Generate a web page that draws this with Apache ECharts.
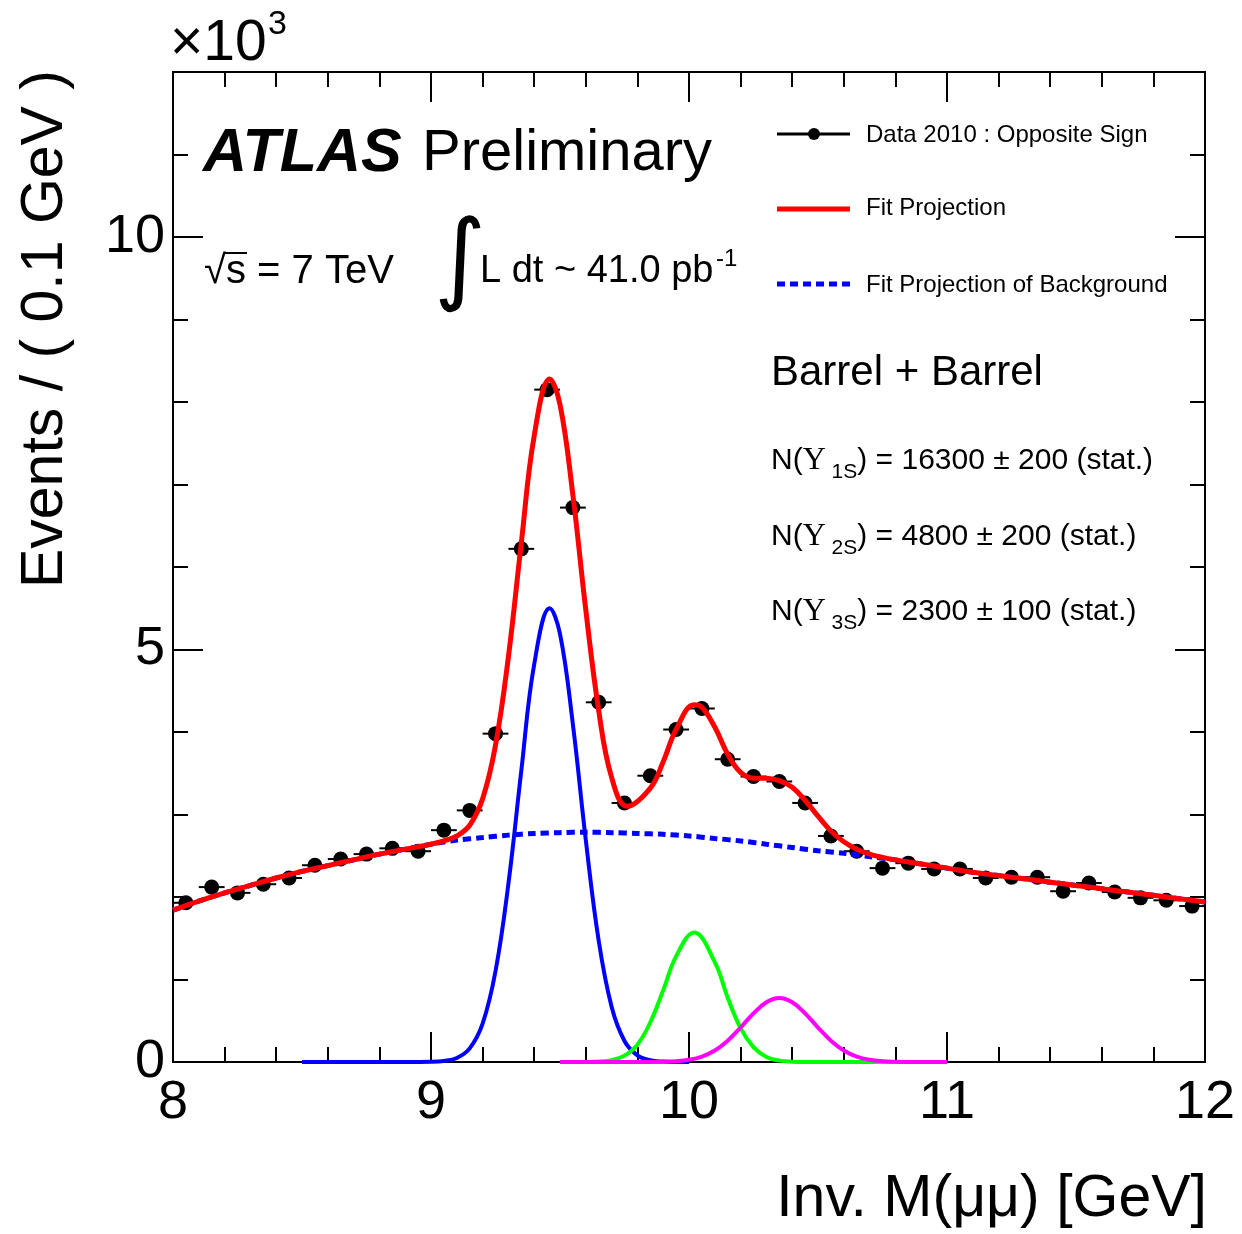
<!DOCTYPE html>
<html>
<head>
<meta charset="utf-8">
<script src="https://cdn.jsdelivr.net/npm/echarts@6/dist/echarts.min.js"></script>
<style>
html,body{margin:0;padding:0;background:#fff;}
#chart{width:1242px;height:1234px;}
</style>
</head>
<body>
<div id="chart"></div>
<script>
// ---- data (events in units of 10^3 per 0.1 GeV) ----
const massBins = [8.05, 8.15, 8.25, 8.35, 8.45, 8.55, 8.65, 8.75, 8.85, 8.95,
                  9.05, 9.15, 9.25, 9.35, 9.45, 9.55, 9.65, 9.75, 9.85, 9.95,
                  10.05, 10.15, 10.25, 10.35, 10.45, 10.55, 10.65, 10.75, 10.85, 10.95,
                  11.05, 11.15, 11.25, 11.35, 11.45, 11.55, 11.65, 11.75, 11.85, 11.95];
const eventsK = [1.93, 2.12, 2.05, 2.155, 2.23, 2.385, 2.46, 2.52, 2.59, 2.555,
                 2.81, 3.05, 3.98, 6.22, 8.15, 6.72, 4.36, 3.14, 3.47, 4.03,
                 4.285, 3.67, 3.46, 3.40, 3.14, 2.74, 2.555, 2.35, 2.41, 2.34,
                 2.34, 2.23, 2.24, 2.24, 2.07, 2.17, 2.06, 1.99, 1.96, 1.89];
const binHalfWidth = 0.05;

const bkgMass = [8.0, 8.1, 8.2, 8.3, 8.4, 8.5, 8.6, 8.7, 8.8, 8.9,
                 9.0, 9.1, 9.2, 9.3, 9.4, 9.5, 9.6, 9.7, 9.8, 9.9,
                 10.0, 10.1, 10.2, 10.3, 10.4, 10.5, 10.6, 10.7, 10.8, 10.9,
                 11.0, 11.1, 11.2, 11.3, 11.4, 11.5, 11.6, 11.7, 11.8, 11.9, 12.0];
const bkgFit = [1.84, 1.95, 2.05, 2.14, 2.23, 2.31, 2.38, 2.45, 2.52, 2.58,
                2.64, 2.69, 2.72, 2.75, 2.77, 2.78, 2.785, 2.78, 2.77, 2.76,
                2.74, 2.71, 2.68, 2.64, 2.60, 2.56, 2.53, 2.49, 2.45, 2.40,
                2.35, 2.30, 2.26, 2.22, 2.18, 2.14, 2.10, 2.06, 2.02, 1.98, 1.94];

const fitMass = [8.0, 8.1, 8.2, 8.3, 8.4, 8.5, 8.6, 8.7, 8.8, 8.9,
                 9.0, 9.05, 9.1, 9.15, 9.2, 9.25, 9.3, 9.35, 9.4, 9.46,
                 9.5, 9.55, 9.6, 9.65, 9.7, 9.76, 9.85, 9.9, 9.95,
                 10.02, 10.05, 10.1, 10.15, 10.2, 10.25, 10.3, 10.35, 10.4, 10.45,
                 10.5, 10.55, 10.6, 10.65, 10.7, 10.75, 10.8, 10.9,
                 11.0, 11.1, 11.2, 11.3, 11.4, 11.5, 11.6, 11.7, 11.8, 11.9, 12.0];
const fitTotal = [1.84, 1.95, 2.05, 2.14, 2.23, 2.31, 2.38, 2.45, 2.52, 2.58,
                  2.64, 2.68, 2.74, 2.87, 3.19, 3.84, 4.91, 6.29, 7.59, 8.28,
                  7.97, 6.87, 5.48, 4.26, 3.45, 3.10, 3.32, 3.64, 4.03,
                  4.33, 4.30, 4.06, 3.73, 3.51, 3.44, 3.44, 3.41, 3.33, 3.17,
                  2.98, 2.80, 2.67, 2.58, 2.52, 2.48, 2.45, 2.40,
                  2.35, 2.30, 2.26, 2.22, 2.18, 2.14, 2.10, 2.06, 2.02, 1.98, 1.94];

const y1sMass = [8.5, 8.9, 9.0, 9.05, 9.1, 9.15, 9.2, 9.25, 9.3, 9.35, 9.4, 9.46,
                 9.5, 9.55, 9.6, 9.65, 9.7, 9.75, 9.8, 9.85, 9.9, 9.95, 10.0];
const y1sFit = [0, 0, 0.002, 0.012, 0.048, 0.165, 0.465, 1.10, 2.16, 3.53, 4.82, 5.50,
                5.19, 4.09, 2.69, 1.47, 0.67, 0.255, 0.081, 0.021, 0.005, 0.001, 0];

const y2sMass = [9.5, 9.6, 9.65, 9.7, 9.75, 9.8, 9.85, 9.9, 9.95, 10.02,
                 10.1, 10.15, 10.2, 10.25, 10.3, 10.35, 10.4, 10.45, 11.0];
const y2sFit = [0, 0.001, 0.005, 0.023, 0.077, 0.21, 0.48, 0.87, 1.28, 1.57,
                1.21, 0.78, 0.41, 0.18, 0.061, 0.017, 0.004, 0, 0];

const y3sMass = [9.5, 9.85, 9.9, 9.95, 10.0, 10.05, 10.1, 10.15, 10.2, 10.25, 10.3, 10.35,
                 10.4, 10.45, 10.5, 10.55, 10.6, 10.65, 10.7, 10.75, 10.8, 10.85, 10.9, 11.0];
const y3sFit = [0, 0.001, 0.003, 0.0096, 0.027, 0.066, 0.140, 0.259, 0.418, 0.589, 0.724, 0.775,
                0.724, 0.589, 0.418, 0.259, 0.140, 0.066, 0.027, 0.0096, 0.003, 0.001, 0, 0];

const legendLabels = ['Data 2010 : Opposite Sign', 'Fit Projection', 'Fit Projection of Background'];

// ---- helpers ----
const zip = (a, b) => a.map((v, i) => [v, b[i]]);
const FONT = '"Liberation Sans", Helvetica, Arial, sans-serif';
const SERIF = '"Liberation Serif", "Times New Roman", serif';

function txt(x, y, text, size, extra) {
  const st = Object.assign({
    text: text, fontSize: size, fontFamily: FONT, fill: '#000',
    align: 'left', verticalAlign: 'middle'
  }, extra || {});
  st.textAlign = st.align;
  st.textVerticalAlign = st.verticalAlign;
  return { type: 'text', x: x, y: y, z: 100, style: st };
}

const chart = echarts.init(document.getElementById('chart'), null, { renderer: 'canvas' });

const tickStyle = { color: '#000', width: 2 };
const xMain = {
  type: 'value', min: 8, max: 12, interval: 1,
  axisLine: { show: true, onZero: false, lineStyle: { color: '#000', width: 2 } },
  axisTick: { show: true, inside: true, length: 30, lineStyle: tickStyle },
  minorTick: { show: true, splitNumber: 5, length: 15, lineStyle: tickStyle },
  splitLine: { show: false }, minorSplitLine: { show: false }
};
const yMajor = {
  type: 'value', min: 0, max: 12, interval: 5,
  axisLine: { show: true, onZero: false, lineStyle: { color: '#000', width: 2 } },
  axisTick: { show: true, inside: true, length: 30, lineStyle: tickStyle },
  splitLine: { show: false }
};
const yMinor = {
  type: 'value', min: 0, max: 12, interval: 1,
  axisLine: { show: false },
  axisTick: { show: true, inside: true, length: 15, lineStyle: tickStyle },
  axisLabel: { show: false },
  splitLine: { show: false }
};

const graphics = [
  // x10^3
  txt(170, 44, '\u00d710', 57),
  txt(268, 25, '3', 34),
  // ATLAS Preliminary
  txt(203, 154, 'ATLAS', 61, { fontWeight: 'bold', fontStyle: 'italic' }),
  txt(422, 154, 'Preliminary', 58),
  // sqrt(s)
  txt(204, 272, '\u221as = 7 TeV', 40),
  { type: 'line', z: 100, shape: { x1: 225, y1: 253, x2: 247, y2: 253 }, style: { stroke: '#000', lineWidth: 2 } },
  txt(434, 265, '\u222b', 100, { fontFamily: '"DejaVu Sans", sans-serif' }),
  txt(480, 272, 'L dt ~ 41.0 pb', 38),
  txt(716, 259, '-1', 24),
  // legend
  { type: 'line', z: 100, shape: { x1: 777, y1: 134, x2: 850, y2: 134 }, style: { stroke: '#000', lineWidth: 3 } },
  { type: 'circle', z: 100, shape: { cx: 814, cy: 134, r: 6 }, style: { fill: '#000' } },
  { type: 'line', z: 100, shape: { x1: 777, y1: 209, x2: 850, y2: 209 }, style: { stroke: '#ff0000', lineWidth: 5 } },
  { type: 'line', z: 100, shape: { x1: 777, y1: 284, x2: 850, y2: 284 }, style: { stroke: '#0000ff', lineWidth: 5, lineDash: [8, 5] } },
  txt(866, 135, legendLabels[0], 24),
  txt(866, 208, legendLabels[1], 24),
  txt(866, 285, legendLabels[2], 24),
  // Barrel + Barrel
  txt(771, 373, 'Barrel + Barrel', 42),
];

function nLine(y, sub, rest) {
  return {
    type: 'text', x: 771, y: y, z: 100,
    style: {
      text: '{a|N(}{u|\u03a5}{s| ' + sub + '}{a|' + rest + '}',
      fontFamily: FONT, fontSize: 30, fill: '#000',
      align: 'left', textAlign: 'left', verticalAlign: 'middle', textVerticalAlign: 'middle',
      rich: {
        a: { fontFamily: FONT, fontSize: 30, lineHeight: 44, verticalAlign: 'middle', fill: '#000' },
        u: { fontFamily: SERIF, fontSize: 32, lineHeight: 44, verticalAlign: 'middle', fill: '#000' },
        s: { fontFamily: FONT, fontSize: 21, lineHeight: 21, verticalAlign: 'bottom', fill: '#000' }
      }
    }
  };
}
graphics.push(nLine(461, '1S', ') = 16300 \u00b1 200 (stat.)'));
graphics.push(nLine(537, '2S', ') = 4800 \u00b1 200 (stat.)'));
graphics.push(nLine(612, '3S', ') = 2300 \u00b1 100 (stat.)'));

// axis titles
graphics.push({
  type: 'text', x: 46, y: 70, rotation: Math.PI / 2, z: 100,
  style: { text: 'Events / ( 0.1 GeV )', fontFamily: FONT, fontSize: 59, fill: '#000',
           align: 'right', textAlign: 'right', verticalAlign: 'middle', textVerticalAlign: 'middle' }
});
graphics.push(txt(1207, 1200, 'Inv. M(\u03bc\u03bc) [GeV]', 59, { align: 'right' }));

const option = {
  animation: false,
  backgroundColor: '#fff',
  textStyle: { fontFamily: FONT },
  grid: {
    left: 173, right: 37, top: 72, bottom: 172,
    show: true, borderColor: '#000', borderWidth: 2, backgroundColor: 'transparent',
    containLabel: false, outerBoundsMode: 'none'
  },
  xAxis: [
    Object.assign({}, xMain, {
      position: 'bottom',
      axisLabel: { show: true, fontSize: 54, color: '#000', margin: 14, fontFamily: FONT }
    }),
    Object.assign({}, xMain, { position: 'top', axisLabel: { show: false } })
  ],
  yAxis: [
    Object.assign({}, yMajor, {
      position: 'left',
      axisLabel: { show: true, fontSize: 54, color: '#000', margin: 8, fontFamily: FONT, showMaxLabel: false }
    }),
    Object.assign({}, yMinor, { position: 'left' }),
    Object.assign({}, yMajor, { position: 'right', axisLabel: { show: false } }),
    Object.assign({}, yMinor, { position: 'right' })
  ],
  series: [
    {
      name: 'errors', type: 'custom', xAxisIndex: 0, yAxisIndex: 0, z: 2,
      data: zip(massBins, eventsK),
      renderItem: function (params, api) {
        const x = api.value(0), y = api.value(1);
        const p1 = api.coord([x - binHalfWidth, y]);
        const p2 = api.coord([x + binHalfWidth, y]);
        return { type: 'line', shape: { x1: p1[0], y1: p1[1], x2: p2[0], y2: p2[1] },
                 style: { stroke: '#000', lineWidth: 2 } };
      }
    },
    {
      name: legendLabels[0], type: 'scatter', xAxisIndex: 0, yAxisIndex: 0, z: 3,
      symbol: 'circle', symbolSize: 15, itemStyle: { color: '#000', opacity: 1 },
      data: zip(massBins, eventsK)
    },
    {
      name: legendLabels[2], type: 'line', xAxisIndex: 0, yAxisIndex: 0, z: 4,
      showSymbol: false, symbol: 'none', smooth: 0.3,
      lineStyle: { color: '#0000ff', width: 5, type: [8, 5] },
      data: zip(bkgMass, bkgFit)
    },
    {
      name: legendLabels[1], type: 'line', xAxisIndex: 0, yAxisIndex: 0, z: 5,
      showSymbol: false, symbol: 'none', smooth: 0.4,
      lineStyle: { color: '#ff0000', width: 5 },
      data: zip(fitMass, fitTotal)
    },
    {
      name: 'Y1S', type: 'line', xAxisIndex: 0, yAxisIndex: 0, z: 6,
      showSymbol: false, symbol: 'none', smooth: 0.4,
      lineStyle: { color: '#0000ff', width: 4 },
      data: zip(y1sMass, y1sFit)
    },
    {
      name: 'Y2S', type: 'line', xAxisIndex: 0, yAxisIndex: 0, z: 7,
      showSymbol: false, symbol: 'none', smooth: 0.4,
      lineStyle: { color: '#00ff00', width: 4 },
      data: zip(y2sMass, y2sFit)
    },
    {
      name: 'Y3S', type: 'line', xAxisIndex: 0, yAxisIndex: 0, z: 8,
      showSymbol: false, symbol: 'none', smooth: 0.4,
      lineStyle: { color: '#ff00ff', width: 4 },
      data: zip(y3sMass, y3sFit)
    }
  ],
  graphic: { elements: graphics }
};
chart.setOption(option);
</script>
</body>
</html>
